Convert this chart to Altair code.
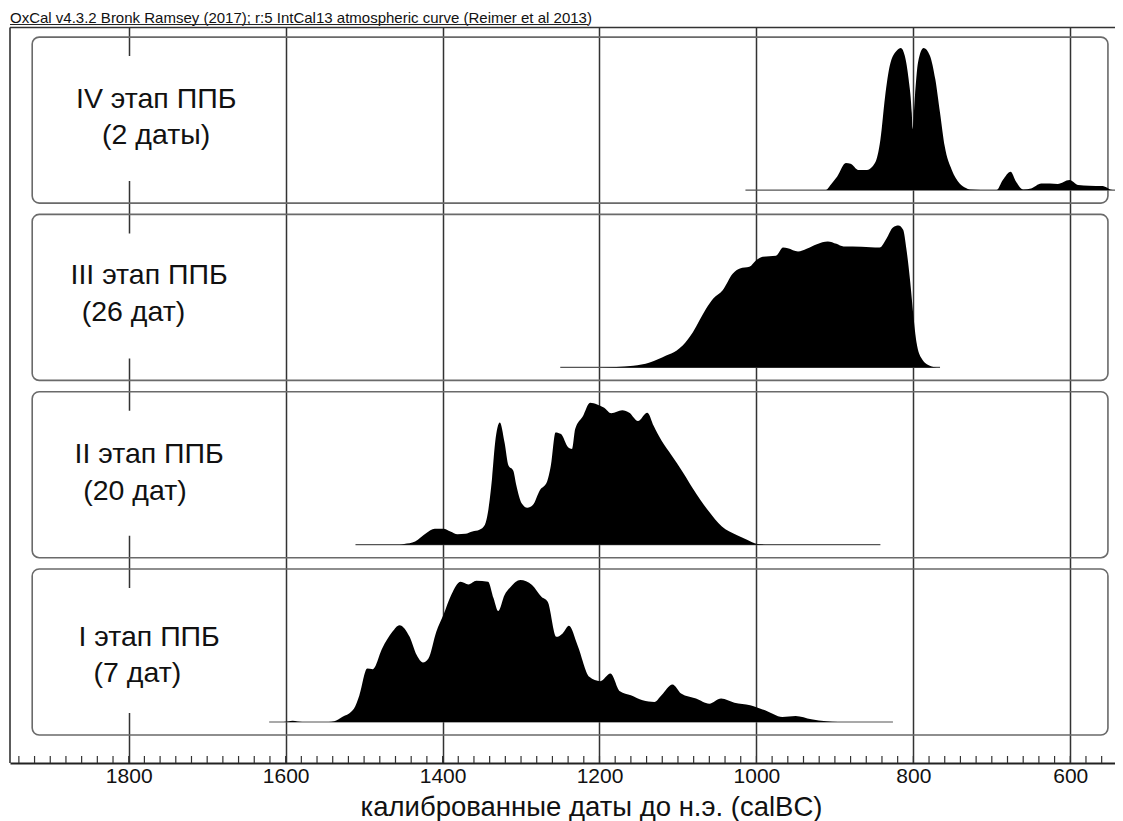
import altair as alt
import pandas as pd

FONT = "Liberation Sans"

# ---------------- data ----------------
HEADER = "OxCal v4.3.2 Bronk Ramsey (2017); r:5 IntCal13 atmospheric curve (Reimer et al 2013)"
X_TITLE = "калиброванные даты до н.э. (calBC)"

# panels, bottom -> top
stage_id = ["I", "II", "III", "IV"]
stage_line1 = ["I этап ППБ", "II этап ППБ", "III этап ППБ", "IV этап ППБ"]
stage_line2 = ["(7 дат)", "(20 дат)", "(26 дат)", "(2 даты)"]

# extent of the thin base line under each distribution (calBC)
base_from = [1621, 1511, 1250, 1014]
base_to = [826, 842, 766, 533]

# relative probability (1 = panel maximum) against calBC year
i_years = [1621, 1603, 1591, 1579, 1545, 1538, 1528, 1513, 1506, 1496, 1489, 1477, 1464, 1455,
           1442, 1433, 1425, 1418, 1408, 1399, 1389, 1377, 1367, 1357, 1342, 1335, 1329, 1321,
           1313, 1301, 1286, 1274, 1266, 1255, 1247, 1239, 1228, 1213, 1199, 1186, 1174, 1160,
           1145, 1130, 1121, 1107, 1096, 1077, 1060, 1045, 1028, 1008, 989, 967, 950, 930, 911,
           896, 826]
i_prob = [0, 0, 0.009, 0, 0, 0.005, 0.035, 0.094, 0.188, 0.376, 0.372, 0.518, 0.635, 0.682,
          0.60, 0.471, 0.419, 0.447, 0.635, 0.753, 0.894, 0.988, 0.969, 0.995, 0.988, 0.871,
          0.781, 0.894, 0.953, 1.0, 0.965, 0.882, 0.847, 0.60, 0.624, 0.678, 0.541, 0.318,
          0.287, 0.341, 0.216, 0.188, 0.153, 0.141, 0.188, 0.264, 0.20, 0.165, 0.129, 0.165,
          0.136, 0.118, 0.082, 0.035, 0.042, 0.019, 0.005, 0, 0]

ii_years = [1511, 1455, 1449, 1435, 1421, 1410, 1399, 1390, 1381, 1371, 1362, 1353, 1346, 1342,
            1337, 1333, 1327, 1321, 1316, 1310, 1306, 1299, 1292, 1285, 1276, 1267, 1262, 1256,
            1249, 1240, 1235, 1231, 1221, 1212, 1203, 1194, 1185, 1171, 1162, 1151, 1139, 1131,
            1121, 1108, 1094, 1081, 1062, 1044, 1026, 1012, 999, 985, 842]
ii_prob = [0, 0, 0.005, 0.023, 0.081, 0.112, 0.112, 0.093, 0.074, 0.077, 0.093, 0.105, 0.14,
           0.233, 0.465, 0.72, 0.86, 0.72, 0.558, 0.523, 0.419, 0.29, 0.26, 0.279, 0.384, 0.442,
           0.558, 0.791, 0.779, 0.686, 0.674, 0.814, 0.907, 1.0, 0.988, 0.965, 0.926, 0.947,
           0.93, 0.872, 0.93, 0.837, 0.733, 0.628, 0.512, 0.395, 0.244, 0.128, 0.07, 0.035,
           0.005, 0, 0]

iii_years = [1250, 1200, 1157, 1136, 1115, 1102, 1094, 1081, 1064, 1055, 1043, 1030, 1021, 1009,
             1000, 992, 975, 966, 960, 947, 936, 923, 909, 898, 889, 866, 843, 834, 826, 819,
             813, 809, 804, 800, 796, 789, 779, 770, 766]
iii_prob = [0, 0, 0.012, 0.035, 0.083, 0.118, 0.154, 0.248, 0.414, 0.485, 0.544, 0.662, 0.697,
            0.709, 0.757, 0.78, 0.787, 0.844, 0.839, 0.816, 0.835, 0.868, 0.887, 0.87, 0.851,
            0.85, 0.844, 0.91, 0.986, 1.0, 0.969, 0.839, 0.603, 0.366, 0.177, 0.059, 0.012, 0, 0]

iv_years = [1014, 912, 905, 897, 886, 880, 870, 859, 849, 842, 836, 830, 821, 816, 811, 806, 802,
            801, 798, 794, 787, 779, 772, 766, 760, 751, 741, 733, 728, 700, 694, 686, 676, 669,
            660, 650, 637, 626, 616, 601, 590, 576, 559, 546, 533]
iv_prob = [0, 0, 0.04, 0.095, 0.19, 0.185, 0.142, 0.142, 0.19, 0.355, 0.66, 0.877, 0.983, 1.0,
           0.948, 0.78, 0.545, 0.43, 0.66, 0.9, 1.0, 0.948, 0.78, 0.545, 0.308, 0.142, 0.047,
           0.015, 0.005, 0, 0, 0.071, 0.13, 0.059, 0.005, 0.012, 0.047, 0.047, 0.043, 0.071,
           0.036, 0.03, 0.028, 0, 0]

major_ticks = [1800, 1600, 1400, 1200, 1000, 800, 600]
minor_ticks = list(range(560, 1960, 20))

# ---------------- layout (pixels inside the plot area) ----------------
W, H = 1105, 735.5
X_DOMAIN = [543.0, 1951.3]
STEP = 177.3          # vertical distance between panels
BASE0 = 41.0          # baseline of the lowest panel above the axis
BOX0 = 28.0           # bottom of the lowest panel box
BOX_H = 166.0
PEAK = 142.0          # height of the highest point of each curve
BOX_X = [1923, 552]
HIDE_X = [1900, 1660]
lab1_x = [1774, 1774, 1774, 1765]
lab2_x = [1789, 1792, 1794, 1765]
lab1_dy = [15.5, 20.5, 22, 21]
lab2_dy = [-20.5, -16.5, -15, -15]

curves = []
for k, (yy, pp) in enumerate([(i_years, i_prob), (ii_years, ii_prob),
                              (iii_years, iii_prob), (iv_years, iv_prob)]):
    for y_, p_ in zip(yy, pp):
        curves.append({"panel": stage_id[k], "year": y_, "prob": p_,
                       "base": BASE0 + STEP * k})
curve_df = pd.DataFrame(curves)

panel_df = pd.DataFrame({
    "panel": stage_id,
    "l1": stage_line1,
    "l2": stage_line2,
    "from": base_from,
    "to": base_to,
    "base": [BASE0 + STEP * k for k in range(4)],
    "bb": [BOX0 + STEP * k for k in range(4)],
    "l1x": lab1_x,
    "l2x": lab2_x,
})
panel_df["bt"] = panel_df["bb"] + BOX_H
panel_df["bx1"] = BOX_X[0]
panel_df["bx2"] = BOX_X[1]
panel_df["hx1"] = HIDE_X[0]
panel_df["hx2"] = HIDE_X[1]
panel_df["hy1"] = panel_df["bb"] + 22
panel_df["hy2"] = panel_df["bb"] + 147
panel_df["l1y"] = panel_df["bb"] + BOX_H / 2 + pd.Series(lab1_dy)
panel_df["l2y"] = panel_df["bb"] + BOX_H / 2 + pd.Series(lab2_dy)

tick_df = pd.DataFrame({"t": minor_ticks, "y0": 0, "y1": 7})
one = pd.DataFrame({"a": [0]})

xs = alt.Scale(domain=X_DOMAIN, reverse=True, nice=False, zero=False)
ys = alt.Scale(domain=[0, H], nice=False, zero=False)

x_axis = alt.Axis(values=major_ticks, format="d", grid=True, gridColor="#333",
                  gridWidth=1.5, ticks=False, domain=True, domainColor="#222",
                  domainWidth=2, labelFont=FONT, labelFontSize=21, labelColor="#111",
                  labelPadding=2, labelFlush=False,
                  title=X_TITLE, titleFont=FONT, titleFontSize=27.5,
                  titleFontWeight="normal", titleColor="#111", titleX=581, titleY=52,
                  titleBaseline="alphabetic", titleAlign="center")


def X(field):
    return alt.X(field, scale=xs, axis=x_axis, title=X_TITLE)


def Y(field):
    return alt.Y(field, scale=ys, axis=None)


# minor ticks
ticks = alt.Chart(tick_df).mark_rule(color="#333", strokeWidth=1.2).encode(
    x=X("t:Q"), y=Y("y0:Q"), y2="y1:Q",
)

hide = alt.Chart(panel_df).mark_rect(color="white").encode(
    x=X("hx1:Q"), x2="hx2:Q", y=Y("hy1:Q"), y2="hy2:Q",
)

boxes = alt.Chart(panel_df).mark_rect(
    fillOpacity=0, stroke="#6a6a6a", strokeWidth=1.6, cornerRadius=7
).encode(
    x=X("bx1:Q"), x2="bx2:Q", y=Y("bb:Q"), y2="bt:Q",
)

baselines = alt.Chart(panel_df).mark_rule(color="#555", strokeWidth=1.2).encode(
    x=X("from:Q"), x2="to:Q", y=Y("base:Q"),
)

areas = alt.Chart(curve_df).transform_calculate(
    top=f"datum.base + datum.prob * {PEAK}"
).mark_area(color="black", interpolate="monotone").encode(
    x=X("year:Q"), y=Y("top:Q"), y2="base:Q", detail="panel:N",
)

text1 = alt.Chart(panel_df).mark_text(
    font=FONT, fontSize=28.5, color="#111", align="center", baseline="middle"
).encode(x=X("l1x:Q"), y=Y("l1y:Q"), text="l1:N")

text2 = alt.Chart(panel_df).mark_text(
    font=FONT, fontSize=28.5, color="#111", align="center", baseline="middle"
).encode(x=X("l2x:Q"), y=Y("l2y:Q"), text="l2:N")

frame_top = alt.Chart(one).mark_rule(color="#333", strokeWidth=1.6).encode(
    x=alt.value(0), x2=alt.value(W), y=alt.value(0)
)
frame_left = alt.Chart(one).mark_rule(color="#333", strokeWidth=1.6).encode(
    x=alt.value(0), y=alt.value(0), y2=alt.value(H)
)
header = alt.Chart(one).mark_text(
    font=FONT, fontSize=15, color="#111", align="left", baseline="alphabetic"
).encode(x=alt.value(0), y=alt.value(-4.5), text=alt.value(HEADER))
underline = alt.Chart(one).mark_rule(color="#222", strokeWidth=1).encode(
    x=alt.value(0), x2=alt.value(578), y=alt.value(-3)
)

chart = alt.layer(
    ticks, hide, boxes, baselines, areas, text1, text2,
    frame_top, frame_left, header, underline
).properties(
    width=W, height=H,
    padding={"left": 2, "top": 19.5, "right": 0, "bottom": 58},
    autosize=alt.AutoSizeParams(type="none"),
    background="white",
).configure_view(strokeWidth=0)

chart.save("out.html", embed_options={"renderer": "svg", "actions": False})
